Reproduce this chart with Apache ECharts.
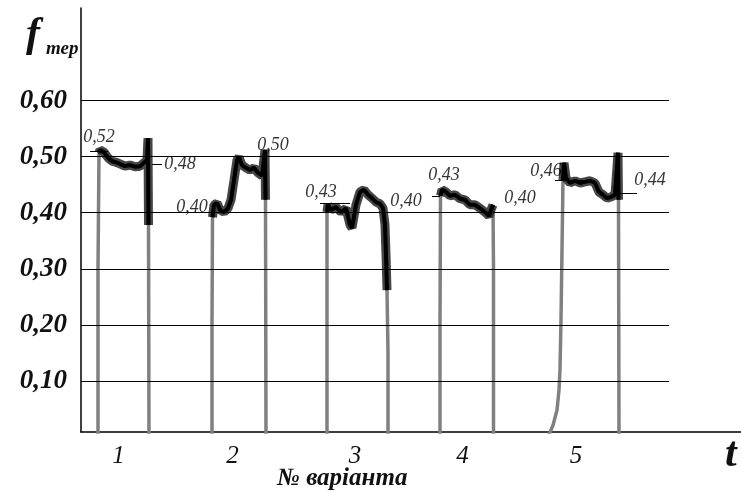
<!DOCTYPE html>
<html>
<head>
<meta charset="utf-8">
<script src="https://cdn.jsdelivr.net/npm/echarts@6/dist/echarts.min.js"></script>
<style>html,body{margin:0;padding:0;background:#fff}#c{width:741px;height:492px}</style>
</head>
<body>
<div id="c"></div>
<script>
// y tick labels (values of f)
const yTicks = [0.1, 0.2, 0.3, 0.4, 0.5, 0.6];
const yTickLabels = ['0,10', '0,20', '0,30', '0,40', '0,50', '0,60'];
// variant labels along t
const variantNames = ['1', '2', '3', '4', '5'];
const variantPos = [37.5, 151.6, 273.9, 381.4, 495];
const gridEnd = 588;

// traces: [t, f]
const trace1 = [[17,0],[17,0.3],[18,0.507],[19,0.512],[23,0.508],[27,0.498],[31,0.492],[35,0.490],[39,0.487],[44,0.483],[49,0.485],[54,0.482],[59,0.483],[63,0.489],[66,0.494],[67,0.533],[67.5,0.378],[68,0]];
const trace2 = [[131,0],[131,0.2],[131.5,0.392],[133,0.414],[136,0.417],[139,0.405],[143,0.401],[147,0.408],[150,0.423],[153,0.458],[156,0.494],[158,0.499],[161,0.485],[165,0.480],[169,0.476],[173,0.480],[177,0.471],[181,0.466],[184,0.512],[184.5,0.423],[185,0]];
const trace3 = [[246,0],[246,0.2],[246,0.401],[247,0.414],[250,0.405],[255,0.410],[260,0.401],[265,0.408],[269,0.378],[271,0.373],[275,0.414],[279,0.437],[283,0.441],[287,0.432],[291,0.426],[295,0.419],[299,0.416],[302,0.408],[304,0.378],[305,0.325],[306,0.262],[307,0.15],[307,0]];
const trace4 = [[359,0],[359,0.2],[359.5,0.430],[361,0.441],[365,0.437],[369,0.430],[374,0.432],[379,0.425],[384,0.423],[389,0.414],[394,0.414],[399,0.408],[404,0.401],[408,0.394],[410,0.405],[412,0.414],[412.5,0.3],[412.5,0]];
const trace5 = [[467,0],[472,0.021],[476,0.048],[478,0.084],[479,0.12],[480,0.209],[481,0.334],[482,0.458],[483,0.489],[485,0.462],[489,0.453],[494,0.457],[499,0.453],[504,0.455],[509,0.457],[514,0.453],[518,0.437],[522,0.432],[526,0.426],[530,0.428],[534,0.432],[537,0.507],[537.5,0.423],[538,0]];
// index range of the dark plateau inside each trace
const bodies = [[2,16],[2,19],[2,20],[2,15],[7,22]];

// value annotations: [text, t, f]
const notes = [
  ['0,52', 18, 0.535], ['0,48', 99, 0.487], ['0,40', 111, 0.410], ['0,50', 192, 0.521],
  ['0,43', 240, 0.437], ['0,40', 325, 0.421], ['0,43', 363, 0.466], ['0,40', 439, 0.425],
  ['0,46', 465, 0.474], ['0,44', 569, 0.457]
];
// leader lines: [t1, t2, f]
const leaders = [[9,27,0.510],[71,81,0.487],[239,269,0.417],[351,359,0.430],[474,514,0.458],[537,556,0.435]];

const traces = [trace1, trace2, trace3, trace4, trace5];
const series = [];
traces.forEach((tr, i) => {
  series.push({type:'line', data: tr, showSymbol:false, silent:true, z:3,
    lineStyle:{color:'#808080', width:3.5}});
  series.push({type:'line', data: tr.slice(bodies[i][0], bodies[i][1]+1), showSymbol:false, silent:true, z:4,
    lineStyle:{color:'#262626', width:9, opacity:0.85}});
  series.push({type:'line', data: tr.slice(bodies[i][0], bodies[i][1]+1), showSymbol:false, silent:true, z:5,
    lineStyle:{color:'#000', width:4}});
});
series.push({
  type:'line', data:[], silent:true, z:2,
  markLine:{silent:true, symbol:['none','none'], label:{show:false},
    lineStyle:{color:'#000', width:1.2, type:'solid'},
    data: yTicks.map(v => [{coord:[0, v]}, {coord:[gridEnd, v]}])
      .concat(leaders.map(l => [{coord:[l[0], l[2]], lineStyle:{width:1}}, {coord:[l[1], l[2]], lineStyle:{width:1}}]))
  }
});
series.push({
  type:'scatter', silent:true, symbolSize:0, z:6,
  data: notes.map(n => ({value:[n[1], n[2]], name:n[0]})),
  label:{show:true, position:'inside', formatter: p => p.name,
    fontFamily:'Liberation Serif', fontStyle:'italic', fontSize:18, color:'#000'}
});

const chart = echarts.init(document.getElementById('c'));
chart.setOption({
  animation:false,
  backgroundColor:'#fff',
  grid:{left:81, right:0, top:8, bottom:60},
  xAxis:{type:'value', min:0, max:660,
    axisLine:{onZero:false, lineStyle:{color:'#000', width:1.5}},
    axisTick:{show:false}, splitLine:{show:false},
    axisLabel:{customValues: variantPos, margin:12,
      formatter: v => { const i = variantPos.indexOf(v); return i >= 0 ? variantNames[i] : ''; },
      fontFamily:'Liberation Serif', fontStyle:'italic', fontSize:25, color:'#111'}
  },
  yAxis:{type:'value', min:0.009, max:0.765,
    axisLine:{show:true, lineStyle:{color:'#000', width:1.5}},
    axisTick:{show:false}, splitLine:{show:false},
    axisLabel:{customValues: yTicks, margin:14,
      formatter: v => { const i = yTicks.findIndex(x => Math.abs(x - v) < 1e-6); return i >= 0 ? yTickLabels[i] : ''; },
      fontFamily:'Liberation Serif', fontStyle:'italic', fontWeight:'bold', fontSize:27, color:'#111'}
  },
  graphic:[
    {type:'text', left:26, top:14, style:{text:'f', font:'italic bold 42px "Liberation Serif"', fill:'#111'}},
    {type:'text', left:46, top:40, style:{text:'тер', font:'italic bold 19px "Liberation Serif"', fill:'#111'}},
    {type:'text', left:725, top:434, style:{text:'t', font:'italic bold 42px "Liberation Serif"', fill:'#111'}},
    {type:'text', left:277, top:466, style:{text:'№ варіанта', font:'italic bold 25px "Liberation Serif"', fill:'#111'}}
  ],
  series: series
});
</script>
</body>
</html>
